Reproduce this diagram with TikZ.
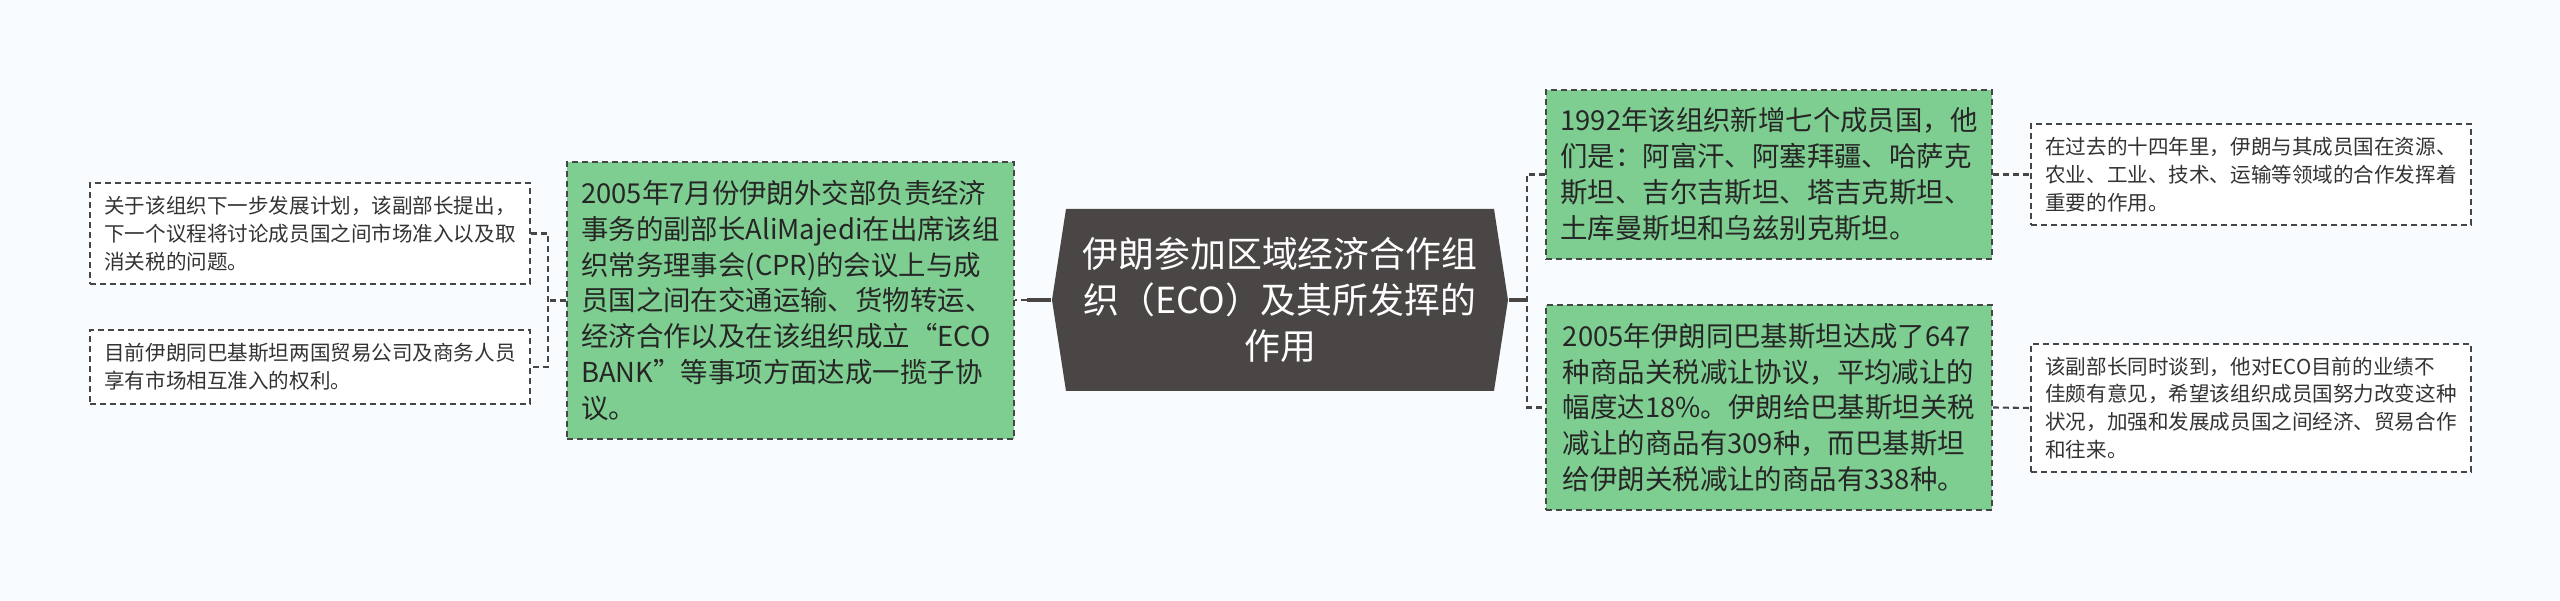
\documentclass[tikz,border=0pt]{standalone}
\usepackage{fontspec}
\setmainfont{Noto Sans CJK SC}
\definecolor{pagebg}{RGB}{248,252,254}
\definecolor{rootgray}{RGB}{75,70,70}
\definecolor{leafgreen}{RGB}{126,206,145}
\definecolor{edgegray}{RGB}{70,70,70}
\begin{document}
\begin{tikzpicture}[
  root/.style={minimum width=4.56cm, minimum height=1.82cm, inner sep=0pt, align=center, text=white,
    font=\fontsize{10.2}{13}\selectfont,
    path picture={\fill[rootgray] (path picture bounding box.west)
      -- ([xshift=0.14cm]path picture bounding box.north west) -- ([xshift=-0.14cm]path picture bounding box.north east)
      -- (path picture bounding box.east)
      -- ([xshift=-0.14cm]path picture bounding box.south east) -- ([xshift=0.14cm]path picture bounding box.south west) -- cycle;}},
  leaf/.style={draw=edgegray, dash pattern=on 0.06cm off 0.04cm, line width=0.5pt, fill=leafgreen, text=black!85,
    align=left, inner sep=0pt, font=\fontsize{7.8}{10.2}\selectfont},
  note/.style={draw=edgegray, dash pattern=on 0.06cm off 0.04cm, line width=0.5pt, fill=white, text=black!80,
    align=left, inner sep=0pt, font=\fontsize{5.85}{7.9}\selectfont},
  link/.style={draw=edgegray, dash pattern=on 0.06cm off 0.04cm, line width=0.6pt},
  trunk/.style={draw=rootgray, line width=1pt}]
  \useasboundingbox[fill=pagebg] (0,0) rectangle (25.6,6.01);

  % centre
  \node[root] (eco) at (12.80,3.01) {伊朗参加区域经济合作组\\织（ECO）及其所发挥的\\作用};

  % left side
  \node[leaf, minimum width=4.47cm, minimum height=2.77cm] (meeting) at (7.905,3.005)
    {2005年7月份伊朗外交部负责经济\\事务的副部长AliMajedi在出席该组\\织常务理事会(CPR)的会议上与成\\员国之间在交通运输、货物转运、\\经济合作以及在该组织成立“ECO\\BANK”等事项方面达成一揽子协\\议。};
  \node[note, minimum width=4.40cm, minimum height=1.01cm] (plan) at (3.10,3.675)
    {关于该组织下一步发展计划，该副部长提出，\\下一个议程将讨论成员国之间市场准入以及取\\消关税的问题。};
  \node[note, minimum width=4.40cm, minimum height=0.74cm] (access) at (3.10,2.34)
    {目前伊朗同巴基斯坦两国贸易公司及商务人员\\享有市场相互准入的权利。};

  % right side
  \node[leaf, minimum width=4.46cm, minimum height=1.69cm] (members) at (17.69,4.265)
    {1992年该组织新增七个成员国，他\\们是：阿富汗、阿塞拜疆、哈萨克\\斯坦、吉尔吉斯坦、塔吉克斯坦、\\土库曼斯坦和乌兹别克斯坦。};
  \node[leaf, minimum width=4.46cm, minimum height=2.05cm] (tariff) at (17.69,1.935)
    {2005年伊朗同巴基斯坦达成了647\\种商品关税减让协议，平均减让的\\幅度达18\%。伊朗给巴基斯坦关税\\减让的商品有309种，而巴基斯坦\\给伊朗关税减让的商品有338种。};
  \node[note, minimum width=4.40cm, minimum height=1.01cm] (fields) at (22.51,4.265)
    {在过去的十四年里，伊朗与其成员国在资源、\\农业、工业、技术、运输等领域的合作发挥着\\重要的作用。};
  \node[note, minimum width=4.40cm, minimum height=1.28cm] (opinion) at (22.51,1.93)
    {该副部长同时谈到，他对ECO目前的业绩不\\佳颇有意见，希望该组织成员国努力改变这种\\状况，加强和发展成员国之间经济、贸易合作\\和往来。};

  % connectors
  \coordinate (jl) at (10.27,3.01);
  \coordinate (bl) at (5.48,3.01);
  \coordinate (jr) at (15.27,3.01);
  \draw[trunk] (eco.west) -- (jl);
  \draw[link] (jl) -- (jl -| meeting.east);
  \draw[link] (meeting.west) -- (meeting.west -| bl);
  \draw[link] (plan.east) -- (plan.east -| bl) -- (access.east -| bl) -- (access.east);
  \draw[trunk] (eco.east) -- (jr);
  \draw[link] (members.west) -| (jr) |- (tariff.west);
  \draw[link] (members.east) -- (fields.west);
  \draw[link] (tariff.east) -- (opinion.west);
\end{tikzpicture}
\end{document}
